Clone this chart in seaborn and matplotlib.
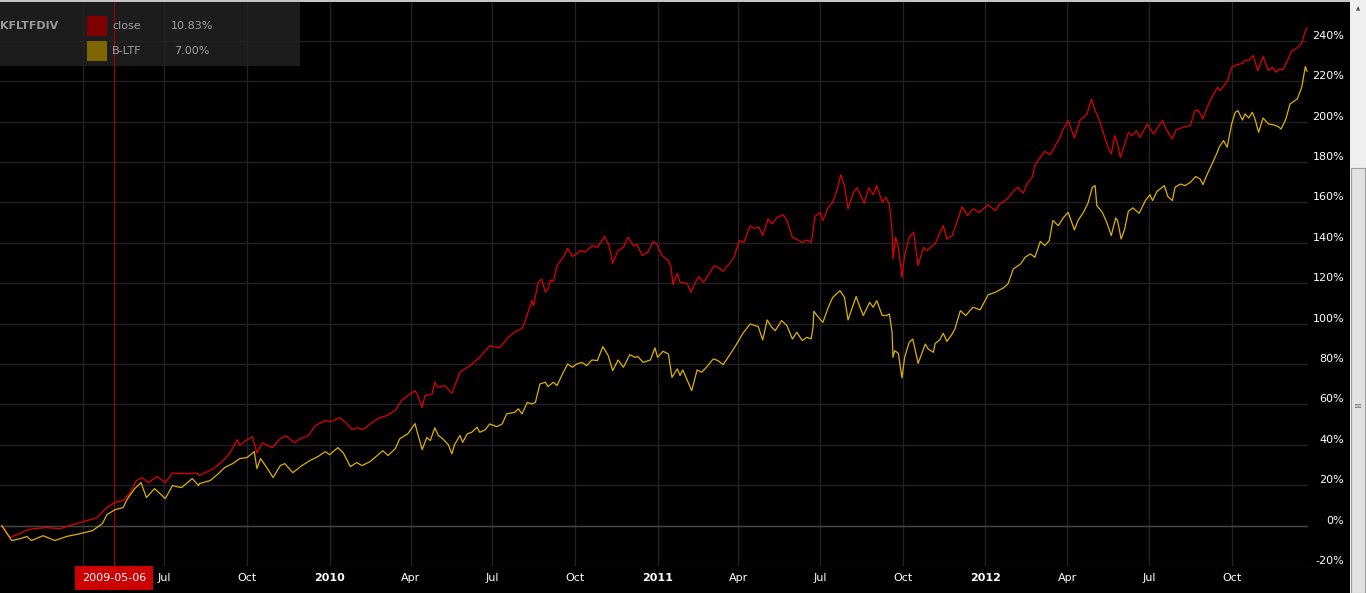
import matplotlib
matplotlib.use('Agg')
import matplotlib.pyplot as plt
from matplotlib.patches import Rectangle
from matplotlib.transforms import blended_transform_factory
import pandas as pd
import seaborn as sns

START = pd.Timestamp('2009-01-01')

# close: days after START, cumulative % change
close_days = [0, 9, 20, 26, 35, 50, 65, 79, 95, 106, 117, 126, 135, 143, 150, 156, 163, 173, 182, 190, 206, 217,
              220, 235, 246, 254, 262, 265, 271, 279, 284, 290, 301, 310, 316, 326, 332, 341, 349, 360, 367, 376,
              384, 390, 396, 402, 412, 421, 429, 438, 445, 452, 460, 463,
              468, 471, 479, 482, 485, 493, 501, 510, 521, 532, 543, 554, 563, 573, 579, 583, 590, 592, 597, 601,
              605, 608, 611, 614, 618, 625, 630, 635, 640, 644, 649, 657, 663, 666, 671, 676, 680, 686, 692, 697,
              703, 707,
              713, 719, 725, 729, 735, 742, 745, 747, 752, 755, 763, 767, 772, 776, 781, 786, 793, 797, 803, 811,
              815, 821, 826, 833, 837, 843, 847, 853, 857, 863, 870, 874, 880, 884, 891, 896, 901, 903, 905, 911,
              914, 920, 925, 930, 934, 938, 942, 948, 952,
              955, 960, 965, 970, 974, 980, 984, 988, 991, 992, 995, 998, 1002, 1005, 1010, 1015, 1020, 1026, 1030,
              1034, 1039, 1042, 1048, 1052, 1058, 1063, 1069, 1075, 1081, 1088, 1098, 1106, 1111, 1119, 1126, 1131,
              1137, 1141, 1147, 1150, 1156, 1161, 1167,
              1178, 1181, 1187, 1194, 1200, 1205, 1208, 1213, 1217, 1222, 1226, 1232, 1235, 1239, 1242, 1245, 1250,
              1254, 1258, 1263, 1267, 1271, 1275, 1282, 1287, 1292, 1297, 1303, 1307, 1315, 1323, 1328, 1332, 1337,
              1342, 1347, 1353, 1356, 1362, 1365, 1369, 1375, 1381, 1384, 1388, 1393, 1398, 1404, 1410, 1414, 1419,
              1422, 1426, 1431, 1436, 1442, 1447, 1451, 1453]
close_pct = [0, -5.8, -4.0, -2.5, -1.5, -1.0, -1.5, 0.5, 2.5, 4.0, 9.0, 11.5, 12.4, 16.3, 22.3, 23.8, 21.3, 24.3,
             21.3, 26.0, 25.7, 26.0,
             24.8, 28.0, 32.0, 36.0, 42.5, 39.6, 42.0, 44.0, 36.0, 41.0, 38.6, 43.0, 44.5, 41.0, 43.0, 44.5, 49.5,
             52.0, 51.5, 53.5, 50.5, 47.5, 48.5, 47.5, 51.0, 53.5, 54.5, 57.0, 62.0, 64.4, 66.8, 64.4,
             58.4, 64.4, 65.2, 71.0, 68.5, 69.3, 65.5, 75.9, 79.2, 83.3, 89.1, 88.0, 92.9, 96.5, 97.4, 101.8, 111.4,
             108.9, 120.4, 122.1, 115.5, 117.1, 121.6, 120.9, 128.7, 132.8, 137.3, 133.2, 134.5, 136.1, 135.3,
             138.6, 137.8, 139.7, 143.1, 138.6, 129.9, 136.1, 137.8, 142.7, 138.6, 139.1,
             133.7, 135.3, 140.7, 139.4, 133.7, 131.2, 127.9, 119.3, 124.9, 120.4, 119.9, 115.5, 120.4, 123.3,
             120.4, 123.8, 128.7, 127.9, 125.9, 130.3, 132.8, 141.1, 140.2, 148.4, 147.2, 147.7, 143.6, 151.8,
             149.3, 152.6, 153.9, 151.0, 142.7, 141.9, 140.2, 141.4, 140.2, 145.2, 153.0, 155.1, 151.0, 157.6,
             160.0, 166.7, 173.7, 168.3, 156.8, 165.0, 167.2,
             164.5, 159.5, 167.2, 163.8, 168.3, 160.0, 162.5, 159.2, 146.0, 132.0, 142.7, 137.8, 122.9, 133.7,
             142.7, 145.2, 128.7, 137.8, 136.1, 137.8, 139.4, 142.7, 148.5, 141.9, 143.6, 150.1, 157.9, 153.5,
             156.8, 155.1, 158.9, 155.9, 159.2, 161.7, 165.5, 167.5, 164.5, 169.1, 172.4, 178.2, 182.3, 185.3, 183.6,
             192.2, 195.9, 200.5, 191.9, 200.5, 202.5, 203.8, 211.2, 205.4, 200.5, 194.7, 186.5, 184.0, 193.1,
             188.9, 182.3, 188.9, 194.7, 193.1, 195.5, 192.2, 195.5, 198.8, 193.9, 197.2, 200.5, 195.5, 191.4,
             195.9, 197.2, 198.0, 205.4, 205.7, 201.3, 207.4, 212.0, 216.9, 215.3, 218.6, 221.0, 226.9, 228.2,
             228.8, 230.5, 230.2, 232.7, 225.2, 232.2, 225.2, 226.9, 224.4, 226.1, 225.6, 230.2, 235.1, 236.5,
             238.8, 245.0, 246.4]

# B-LTF benchmark
ltf_days = [0, 11, 20, 28, 33, 46, 59, 72, 87, 101, 112, 117, 126, 135, 140, 148, 155, 161, 170, 182, 190, 200,
            212, 219,
            220, 232, 241, 248, 257, 265, 273, 281, 284, 288, 295, 302, 310, 315, 324, 334, 343, 352, 360, 365, 374,
            380, 388, 395, 401, 410, 418, 424, 430, 438, 443, 452, 460, 462, 468, 473,
            477, 482, 486, 491, 497, 501, 504, 510, 513, 518, 523, 529, 532, 538, 543, 551, 557, 562, 571, 575, 579,
            585, 590, 594,
            599, 605, 608, 614, 618, 625, 630, 635, 640, 646, 651, 657, 663, 669, 675, 680, 686, 692, 699, 705, 708,
            714, 722, 727, 730, 736, 742, 746, 752, 755, 758, 768, 774, 779, 785, 792, 797, 803, 811, 818, 825, 833,
            842, 847, 852, 857, 861, 868, 874, 880, 885, 891, 896, 901, 903, 904, 909, 914, 920, 925, 933, 938, 942,
            951,
            955, 959, 966, 970, 974, 980, 985, 988, 991, 992, 994, 998, 1002, 1005, 1010, 1014, 1020, 1028, 1031,
            1037, 1039, 1044, 1048, 1052, 1058, 1061, 1067, 1073, 1081, 1089, 1098, 1106, 1115, 1120, 1126, 1134,
            1139, 1145, 1150, 1156, 1161, 1166, 1170, 1176,
            1182, 1187, 1194, 1198, 1204, 1209, 1214, 1217, 1219, 1225, 1230, 1235, 1240, 1242, 1246, 1250, 1254,
            1259, 1266, 1273, 1278, 1281, 1286, 1292, 1294, 1298, 1303, 1306, 1312, 1317, 1323, 1329, 1334, 1337,
            1342, 1348, 1353, 1355, 1360, 1364, 1369, 1373, 1376, 1381, 1384, 1388, 1392, 1395, 1399, 1404, 1410,
            1415, 1421, 1424, 1429, 1434, 1442, 1447, 1451, 1453]
ltf_pct = [0, -7.4, -6.5, -5.4, -7.4, -5.0, -7.4, -5.4, -4.0, -2.5, 1.0, 5.4, 7.9, 8.9, 13.4, 18.3, 21.3, 13.9,
           18.3, 13.4, 19.8, 18.8, 23.3, 19.8,
           20.8, 22.3, 25.7, 28.7, 30.7, 33.2, 33.7, 36.6, 28.2, 33.2, 28.7, 23.8, 29.7, 30.7, 26.2, 29.7, 32.2,
           34.2, 36.6, 35.1, 38.6, 36.1, 29.2, 31.2, 29.7, 31.7, 34.7, 37.1, 34.7, 38.1, 43.0, 45.5, 50.5, 47.0,
           37.6, 43.6,
           42.1, 48.4, 44.6, 42.9, 40.1, 35.5, 40.1, 44.6, 41.2, 45.4, 46.2, 48.7, 46.2, 47.4, 50.3, 49.0, 50.3,
           55.3, 56.1, 57.8, 55.3, 61.0, 60.2, 61.0,
           70.1, 71.0, 68.8, 71.0, 69.3, 75.9, 80.0, 78.4, 80.0, 80.8, 79.2, 82.0, 81.7, 88.6, 84.2, 76.7, 82.0,
           78.4, 84.6, 83.3, 83.7,
           80.8, 82.0, 88.0, 83.3, 86.3, 85.0, 73.4, 77.6, 74.3, 77.1, 66.8, 77.1, 75.9, 78.7, 82.5, 81.7, 79.7,
           85.0, 89.9, 95.2, 99.8, 98.5, 91.9, 101.8, 98.2, 96.5, 101.5, 99.0, 92.4, 95.7, 91.6, 93.2, 92.4, 98.2,
           106.1, 103.1, 100.6, 108.1, 113.0, 116.3, 113.0, 101.8, 113.4,
           108.4, 104.0, 110.5, 108.1, 111.4, 104.0, 104.0, 104.8, 95.7, 83.3, 86.6, 85.3, 73.1, 83.3, 90.7, 92.4,
           80.3, 89.9, 87.5, 85.8, 90.2, 91.9, 95.2, 91.2, 94.9, 97.4, 106.4, 104.0, 108.1, 106.8, 114.3, 115.5,
           117.7, 119.6, 127.1, 129.5, 132.8, 134.5, 132.8, 140.7, 138.6, 141.1, 151.0, 148.5,
           152.6, 155.1, 146.4, 151.0, 155.1, 159.5, 167.5, 168.3, 158.4, 155.1, 150.1, 143.6, 152.3, 151.0,
           141.9, 146.9, 155.6, 157.3, 154.6, 160.9, 163.8, 160.9, 165.5, 167.5, 168.3, 162.9, 160.9, 167.5,
           169.1, 168.3, 169.9, 172.8, 171.6, 168.8, 174.1, 179.8, 184.8, 187.3, 190.6, 187.3, 198.8, 204.6,
           205.4, 200.8, 203.8, 201.8, 204.6, 201.3, 194.7, 201.8, 198.8, 198.5, 197.5, 196.3, 200.8, 208.7,
           211.2, 216.9, 227.2, 224.9]

ticker = 'KFLTFDIV'
series_names = ['close', 'B-LTF']
series_returns = ['10.83%', '7.00%']
line_colors = ['#e00000', '#e0b000']
swatch_colors = ['#7f0000', '#806600']
marker_date = '2009-05-06'
y_ticks = list(range(-20, 241, 20))
x_ticks = pd.date_range('2009-04-01', '2012-10-01', freq='QS')

df = pd.concat([
    pd.DataFrame({'date': START + pd.to_timedelta(close_days, unit='D'), 'pct': close_pct, 'series': 'close'}),
    pd.DataFrame({'date': START + pd.to_timedelta(ltf_days, unit='D'), 'pct': ltf_pct, 'series': 'B-LTF'}),
])

sns.set_theme(style='dark', rc={'axes.facecolor': 'black', 'figure.facecolor': 'black',
                                'axes.edgecolor': 'black', 'axes.axisbelow': True})
plt.rcParams['font.family'] = ['DejaVu Sans']

W, H = 1366, 593
fig = plt.figure(figsize=(W / 100, H / 100), dpi=100)
ax = fig.add_axes([0, 27 / H, 1308 / W, 566 / H])

sns.lineplot(data=df, x='date', y='pct', hue='series', palette=dict(zip(series_names, line_colors)),
             estimator=None, sort=False, lw=0.9, legend=False, ax=ax)

ax.set_xlim(pd.Timestamp('2008-12-30'), pd.Timestamp('2012-12-25'))
ax.set_ylim(-20, 260.2)
ax.set_xlabel('')
ax.set_ylabel('')
for s in ax.spines.values():
    s.set_visible(False)

ax.grid(True, color='#222222', lw=1)
ax.axhline(0, color='#444444', lw=1, zorder=1)

# y axis on the right, labels sitting just above the gridlines
ax.yaxis.tick_right()
ax.set_yticks(y_ticks)
ax.set_yticklabels([f'{v}%' for v in y_ticks])
ax.tick_params(axis='y', length=0, pad=26, labelcolor='white', labelsize=8)
plt.setp(ax.get_yticklabels(), ha='right', va='bottom')

# the first quarter label is hidden under the crosshair date tag
md = pd.Timestamp(marker_date)
x_labels = ['' if abs((d - md).days) < 40 else (str(d.year) if d.month == 1 else d.strftime('%b'))
            for d in x_ticks]
ax.set_xticks(x_ticks)
ax.set_xticklabels(x_labels)
ax.tick_params(axis='x', length=0, pad=5, labelcolor='white', labelsize=8)
for lab in ax.get_xticklabels():
    if lab.get_text().isdigit():
        lab.set_fontweight('bold')

# crosshair with date tag
ax.axvline(md, color='#a00000', lw=0.8, zorder=1.2)
trans = blended_transform_factory(ax.transData, ax.transAxes)
ax.text(md, -12 / 566, marker_date, transform=trans, ha='center', va='center', color='white', fontsize=8,
        clip_on=False, zorder=6,
        bbox=dict(boxstyle='square,pad=0.6', fc='#cc0000', ec='none'))

# legend panel in the top-left corner
aw, ah = 1308, 566
ax.add_patch(Rectangle((0, 1 - 66 / ah), 300 / aw, 66 / ah, transform=ax.transAxes,
                       facecolor='#1c1c1c', edgecolor='none', zorder=0.3))
ax.text(0, 1 - 26 / ah, ticker, transform=ax.transAxes, ha='left', va='center', color='#9a9a9a',
        fontsize=8, fontweight='bold', zorder=4)
for i, (name, ret, sc) in enumerate(zip(series_names, series_returns, swatch_colors)):
    yc = 26 + 25 * i
    ax.add_patch(Rectangle((87 / aw, 1 - (yc + 10) / ah), 20 / aw, 20 / ah, transform=ax.transAxes,
                           facecolor=sc, edgecolor='none', zorder=4))
    ax.text(112 / aw, 1 - yc / ah, name, transform=ax.transAxes, ha='left', va='center', color='#a0a0a0',
            fontsize=8, zorder=4)
    ax.text(192 / aw, 1 - yc / ah, ret, transform=ax.transAxes, ha='center', va='center', color='#a0a0a0',
            fontsize=8, zorder=4)

# window chrome: top border and scrollbar
fig.patches.append(Rectangle((0, 1 - 2 / H), 1350 / W, 2 / H, transform=fig.transFigure,
                             facecolor='#c4c4c4', edgecolor='none'))
fig.patches.append(Rectangle((1350 / W, 0), 16 / W, 1, transform=fig.transFigure,
                             facecolor='#efefef', edgecolor='none'))
fig.patches.append(Rectangle((1351 / W, 0), 14 / W, 1 - 168 / H, transform=fig.transFigure,
                             facecolor='#e2e2e2', edgecolor='#a0a0a0', lw=0.8))
fig.text(1358 / W, 1 - 9 / H, '▲', ha='center', va='center', color='#555555', fontsize=4)
fig.text(1358 / W, 1 - 406 / H, '≡', ha='center', va='center', color='#777777', fontsize=7)

fig.savefig('out.png', dpi=100, facecolor='black')
